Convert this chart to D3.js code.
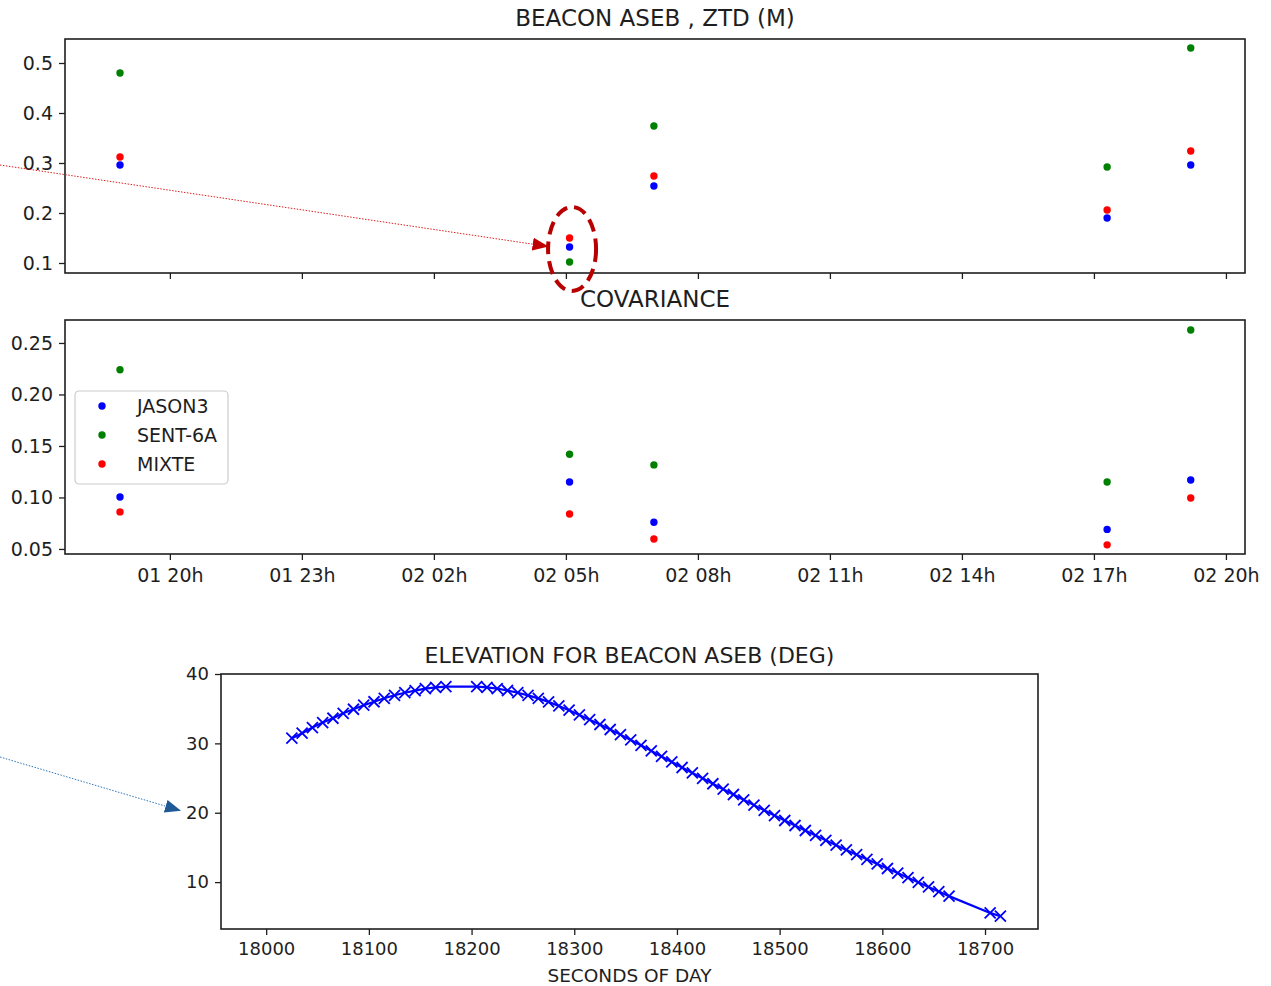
<!DOCTYPE html>
<html>
<head>
<meta charset="utf-8">
<script src="https://cdn.jsdelivr.net/npm/d3@7"></script>
<style>
  body { margin: 0; background: #fff; }
  svg text { font-family: "DejaVu Sans", sans-serif; }
</style>
</head>
<body>
<svg id="chart"></svg>
<script>
const width = 1271;
const height = 986;

// ---- data ----
const passTimes = ["2022-02-01T18:52", "2022-02-02T05:05", "2022-02-02T07:00", "2022-02-02T17:18", "2022-02-02T19:12"];
const seriesNames = ["JASON3", "SENT-6A", "MIXTE"];
const seriesColors = ["#0000ff", "#008000", "#ff0000"];

const ztdJason3 = [0.296, 0.132, 0.254, 0.190, 0.296];
const ztdSent6a = [0.480, 0.102, 0.374, 0.292, 0.530];
const ztdMixte  = [0.312, 0.150, 0.274, 0.206, 0.324];

const covJason3 = [0.1005, 0.115, 0.076, 0.069, 0.117];
const covSent6a = [0.224, 0.142, 0.1316, 0.115, 0.2626];
const covMixte  = [0.086, 0.084, 0.0597, 0.054, 0.0995];

const timeTicks = ["2022-02-01T20:00", "2022-02-01T23:00", "2022-02-02T02:00", "2022-02-02T05:00",
  "2022-02-02T08:00", "2022-02-02T11:00", "2022-02-02T14:00", "2022-02-02T17:00", "2022-02-02T20:00"];
const ztdTicks = [0.1, 0.2, 0.3, 0.4, 0.5];
const covTicks = [0.05, 0.10, 0.15, 0.20, 0.25];

const elevSeconds = [18025, 18035, 18045, 18055, 18065, 18075, 18085, 18095, 18105, 18115, 18125, 18135, 18145, 18155, 18165, 18175,
  18205, 18215, 18225, 18235, 18245, 18255, 18265, 18275, 18285, 18295,
  18305, 18315, 18325, 18335, 18345, 18355, 18365, 18375, 18385, 18395,
  18405, 18415, 18425, 18435, 18445, 18455, 18465, 18475, 18485, 18495,
  18505, 18515, 18525, 18535, 18545, 18555, 18565, 18575, 18585, 18595,
  18605, 18615, 18625, 18635, 18645, 18655, 18665,
  18705, 18715];
const elevDegrees = [30.75, 31.47, 32.28, 33.0, 33.62, 34.34, 34.92, 35.5, 36.0, 36.5, 36.93, 37.3, 37.6, 37.9, 38.08, 38.18,
  38.18, 38.06, 37.88, 37.62, 37.3, 36.92, 36.48, 35.98, 35.4, 34.78,
  34.1, 33.42, 32.72, 32.0, 31.26, 30.5, 29.72, 28.92, 28.12, 27.32,
  26.52, 25.74, 24.96, 24.18, 23.4, 22.63, 21.86, 21.1, 20.35, 19.6,
  18.88, 18.16, 17.44, 16.73, 16.03, 15.33, 14.64, 13.96, 13.28, 12.62,
  11.96, 11.3, 10.64, 9.97, 9.3, 8.64, 7.98,
  5.56, 5.08];
const elevXTicks = [18000, 18100, 18200, 18300, 18400, 18500, 18600, 18700];
const elevYTicks = [10, 20, 30, 40];

const parseTime = d3.utcParse("%Y-%m-%dT%H:%M");
const times = passTimes.map(parseTime);

const svg = d3.select("#chart")
    .attr("width", width)
    .attr("height", height)
    .style("background", "#fff");

const ink = "#1e1e1e";

// shared time scale for the two upper panels
const x = d3.scaleUtc()
    .domain([parseTime("2022-02-01T17:37"), parseTime("2022-02-02T20:26")])
    .range([65, 1245]);

function frame(x0, y0, x1, y1) {
    svg.append("rect")
        .attr("x", x0).attr("y", y0)
        .attr("width", x1 - x0).attr("height", y1 - y0)
        .attr("fill", "none")
        .attr("stroke", ink)
        .attr("stroke-width", 1.6);
}

function styleAxis(g, size) {
    g.select(".domain").remove();
    g.attr("color", ink)
        .attr("font-family", "DejaVu Sans, sans-serif")
        .attr("font-size", size);
    g.selectAll(".tick line").attr("stroke-width", 1.3);
}

function scatterPanel(yScale, yTicks, fmt, series, top, bottom, title, showLabels) {
    frame(65, top, 1245, bottom);

    svg.append("g")
        .attr("transform", `translate(65,0)`)
        .call(d3.axisLeft(yScale).tickValues(yTicks).tickFormat(d3.format(fmt)).tickSize(6).tickPadding(6))
        .call(g => styleAxis(g, 19));

    svg.append("g")
        .attr("transform", `translate(0,${bottom})`)
        .call(d3.axisBottom(x).tickValues(timeTicks.map(parseTime))
            .tickFormat(showLabels ? d3.utcFormat("%d %Hh") : "")
            .tickSize(6).tickPadding(9))
        .call(g => styleAxis(g, 19));

    series.forEach((vals, i) => {
        svg.append("g").selectAll("circle")
            .data(vals)
            .enter().append("circle")
            .attr("cx", (d, j) => x(times[j]))
            .attr("cy", d => yScale(d))
            .attr("r", 3.7)
            .attr("fill", seriesColors[i]);
    });

    svg.append("text")
        .attr("x", (65 + 1245) / 2)
        .attr("y", top - 13)
        .attr("text-anchor", "middle")
        .attr("font-size", 23)
        .attr("fill", ink)
        .text(title);
}

const yZtd = d3.scaleLinear().domain([0.08, 0.548]).range([273, 39]);
const yCov = d3.scaleLinear().domain([0.0451, 0.2723]).range([554, 320]);

scatterPanel(yZtd, ztdTicks, ".1f", [ztdJason3, ztdSent6a, ztdMixte], 39, 273, "BEACON ASEB , ZTD (M)", false);
scatterPanel(yCov, covTicks, ".2f", [covJason3, covSent6a, covMixte], 320, 554, "COVARIANCE", true);

// legend (matplotlib style)
const legend = svg.append("g").attr("transform", "translate(75,391)");
legend.append("rect")
    .attr("width", 153).attr("height", 93)
    .attr("rx", 4)
    .attr("fill", "#fff").attr("fill-opacity", 0.8)
    .attr("stroke", "#ccc").attr("stroke-width", 1.2);
seriesNames.forEach((name, i) => {
    legend.append("circle")
        .attr("cx", 27).attr("cy", 15 + i * 29)
        .attr("r", 3.7)
        .attr("fill", seriesColors[i]);
    legend.append("text")
        .attr("x", 62).attr("y", 15 + i * 29)
        .attr("dy", "0.36em")
        .attr("font-size", 19)
        .attr("fill", ink)
        .text(name);
});

// ---- elevation panel ----
const xElev = d3.scaleLinear().domain([17956, 18751.6]).range([221, 1038]);
const yElev = d3.scaleLinear().domain([3.24, 40]).range([929, 674]);

frame(221, 674, 1038, 929);

svg.append("g")
    .attr("transform", "translate(221,0)")
    .call(d3.axisLeft(yElev).tickValues(elevYTicks).tickSize(6).tickPadding(6))
    .call(g => styleAxis(g, 18));

svg.append("g")
    .attr("transform", "translate(0,929)")
    .call(d3.axisBottom(xElev).tickValues(elevXTicks).tickFormat(d3.format("d")).tickSize(6).tickPadding(7))
    .call(g => styleAxis(g, 18));

const elevData = elevSeconds.map((s, i) => [s, elevDegrees[i]]);

svg.append("path")
    .datum(elevData)
    .attr("fill", "none")
    .attr("stroke", "#0000ff")
    .attr("stroke-width", 2.2)
    .attr("d", d3.line().x(d => xElev(d[0])).y(d => yElev(d[1])));

svg.append("g").selectAll("path")
    .data(elevData)
    .enter().append("path")
    .attr("transform", d => `translate(${xElev(d[0])},${yElev(d[1])})`)
    .attr("d", "M-5.5,-5.5L5.5,5.5M-5.5,5.5L5.5,-5.5")
    .attr("stroke", "#0000ff")
    .attr("stroke-width", 1.8);

svg.append("text")
    .attr("x", (221 + 1038) / 2)
    .attr("y", 663)
    .attr("text-anchor", "middle")
    .attr("font-size", 22)
    .attr("fill", ink)
    .text("ELEVATION FOR BEACON ASEB (DEG)");

svg.append("text")
    .attr("x", (221 + 1038) / 2)
    .attr("y", 982)
    .attr("text-anchor", "middle")
    .attr("font-size", 18.5)
    .attr("fill", ink)
    .text("SECONDS OF DAY");

// ---- annotations ----
const defs = svg.append("defs");
function arrowHead(id, color) {
    defs.append("marker")
        .attr("id", id)
        .attr("viewBox", "0 0 10 10")
        .attr("preserveAspectRatio", "none")
        .attr("refX", 10).attr("refY", 5)
        .attr("markerUnits", "userSpaceOnUse")
        .attr("markerWidth", 16).attr("markerHeight", 13)
        .attr("orient", "auto")
        .append("path")
        .attr("d", "M0,0L10,5L0,10Z")
        .attr("fill", color);
}
arrowHead("redHead", "#c00000");
arrowHead("blueHead", "#1f5a96");

const circled = times[1];
svg.append("line")
    .attr("x1", 0).attr("y1", 165)
    .attr("x2", x(circled) - 21).attr("y2", yZtd(0.133))
    .attr("stroke", "#e02020")
    .attr("stroke-width", 1)
    .attr("stroke-dasharray", "1.5,1.5")
    .attr("marker-end", "url(#redHead)");

svg.append("ellipse")
    .attr("cx", x(circled) + 2.5)
    .attr("cy", yZtd(0.128))
    .attr("rx", 24).attr("ry", 42)
    .attr("fill", "none")
    .attr("stroke", "#b80000")
    .attr("stroke-width", 4)
    .attr("stroke-dasharray", "13,7");

svg.append("line")
    .attr("x1", 0).attr("y1", 757)
    .attr("x2", 181).attr("y2", yElev(20) - 2)
    .attr("stroke", "#2e75b6")
    .attr("stroke-width", 1)
    .attr("stroke-dasharray", "1.5,1.5")
    .attr("marker-end", "url(#blueHead)");
</script>
</body>
</html>
